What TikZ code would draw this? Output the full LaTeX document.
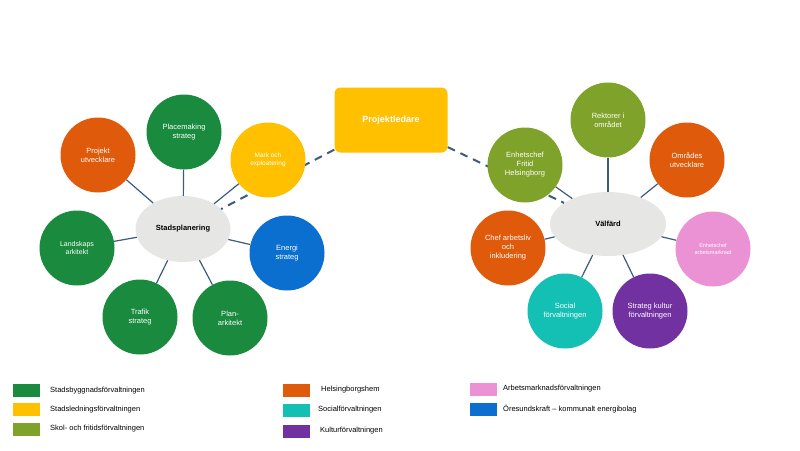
\documentclass[tikz,border=0pt]{standalone}
\usepackage{fontspec}
\setmainfont{Liberation Sans}
\usetikzlibrary{shapes.geometric}
\definecolor{cgreen}{HTML}{1A8A3E}
\definecolor{corange}{HTML}{E05A0C}
\definecolor{cyellow}{HTML}{FFC000}
\definecolor{cblue}{HTML}{0A6FCF}
\definecolor{colive}{HTML}{7FA22A}
\definecolor{cpink}{HTML}{EA92D4}
\definecolor{cteal}{HTML}{14BFB4}
\definecolor{cpurple}{HTML}{7131A0}
\definecolor{cgrey}{HTML}{E6E6E4}
\definecolor{cline}{HTML}{3C5C7A}
\begin{document}
\begin{tikzpicture}[x=1pt,y=-1pt,
  circ/.style={circle,minimum size=75pt,inner sep=0pt,text=white,font=\fontsize{7.5}{9}\selectfont,align=center},
  hub/.style={ellipse,fill=cgrey,minimum width=95pt,minimum height=66pt,font=\bfseries\fontsize{7.5}{9}\selectfont},
  link/.style={draw=cline,line width=1.2pt},
  dlink/.style={draw=cline,line width=2pt,dash pattern=on 8pt off 6pt},
  sq/.style={minimum width=27pt,minimum height=13pt,inner sep=0pt},
  lt/.style={anchor=west,font=\fontsize{7.5}{9}\selectfont,inner sep=0pt}]
\useasboundingbox (0,0) rectangle (800,450);
% hubs
\node[hub] (sp) at (183,229) {Stadsplanering};
\node[hub,minimum width=116pt,minimum height=64pt] (vf) at (608,224) {Välfärd};
\node[fill=cyellow,rounded corners=6pt,minimum width=113pt,minimum height=65pt,font=\bfseries\fontsize{9}{11}\selectfont,text=white] (pl) at (391,120) {Projektledare};
% dashed links (behind circles)
\draw[dlink] (pl) -- (sp);
\draw[dlink] (pl) -- (vf);
% left circles
\node[circ,fill=corange] (pu) at (98,155) {Projekt\\utvecklare};
\node[circ,fill=cgreen] (pm) at (184,132) {Placemaking\\strateg};
\node[circ,fill=cyellow,font=\fontsize{6.5}{8}\selectfont] (me) at (268,160) {Mark och\\exploatering};
\node[circ,fill=cgreen,font=\fontsize{7}{8.5}\selectfont] (la) at (77,248) {Landskaps\\arkitekt};
\node[circ,fill=cblue] (es) at (287,253) {Energi\\strateg};
\node[circ,fill=cgreen] (ts) at (140,317) {Trafik\\strateg};
\node[circ,fill=cgreen] (pa) at (230,318) {Plan-\\arkitekt};
% right circles
\node[circ,fill=colive] (ro) at (608,120) {Rektorer i\\området};
\node[circ,fill=colive] (ef) at (525,165) {Enhetschef\\Fritid\\Helsingborg};
\node[circ,fill=corange] (ou) at (687,160) {Områdes\\utvecklare};
\node[circ,fill=corange] (ca) at (508,248) {Chef arbetsliv\\och\\inkludering};
\node[circ,fill=cpink,font=\fontsize{5.5}{7}\selectfont] (ea) at (713,249) {Enhetschef\\arbetsmarknad};
\node[circ,fill=cteal] (sf) at (565,311) {Social\\förvaltningen};
\node[circ,fill=cpurple] (sk) at (650,311) {Strateg kultur\\förvaltningen};
% solid links
\foreach \c in {pu,pm,me,la,es,ts,pa} \draw[link] (sp) -- (\c);
\foreach \c in {ro,ef,ou,ca,ea,sf,sk} \draw[link] (vf) -- (\c);
% legend
\node[sq,fill=cgreen,anchor=west] (l1) at (13,390) {};
\node[lt] (t1) at (50,391) {Stadsbyggnadsförvaltningen};
\node[sq,fill=cyellow,anchor=west] (l2) at (13,409) {};
\node[lt] (t2) at (50,410) {Stadsledningsförvaltningen};
\node[sq,fill=colive,anchor=west] (l3) at (13,429) {};
\node[lt] (t3) at (50,429) {Skol- och fritidsförvaltningen};
\node[sq,fill=corange,anchor=west] (l4) at (283,390) {};
\node[lt] (t4) at (321,390) {Helsingborgshem};
\node[sq,fill=cteal,anchor=west] (l5) at (283,410) {};
\node[lt] (t5) at (318,410) {Socialförvaltningen};
\node[sq,fill=cpurple,anchor=west] (l6) at (283,431) {};
\node[lt] (t6) at (320,431) {Kulturförvaltningen};
\node[sq,fill=cpink,anchor=west] (l7) at (470,389) {};
\node[lt] (t7) at (503,389) {Arbetsmarknadsförvaltningen};
\node[sq,fill=cblue,anchor=west] (l8) at (470,409) {};
\node[lt] (t8) at (503,409) {Öresundskraft – kommunalt energibolag};
\end{tikzpicture}
\end{document}
